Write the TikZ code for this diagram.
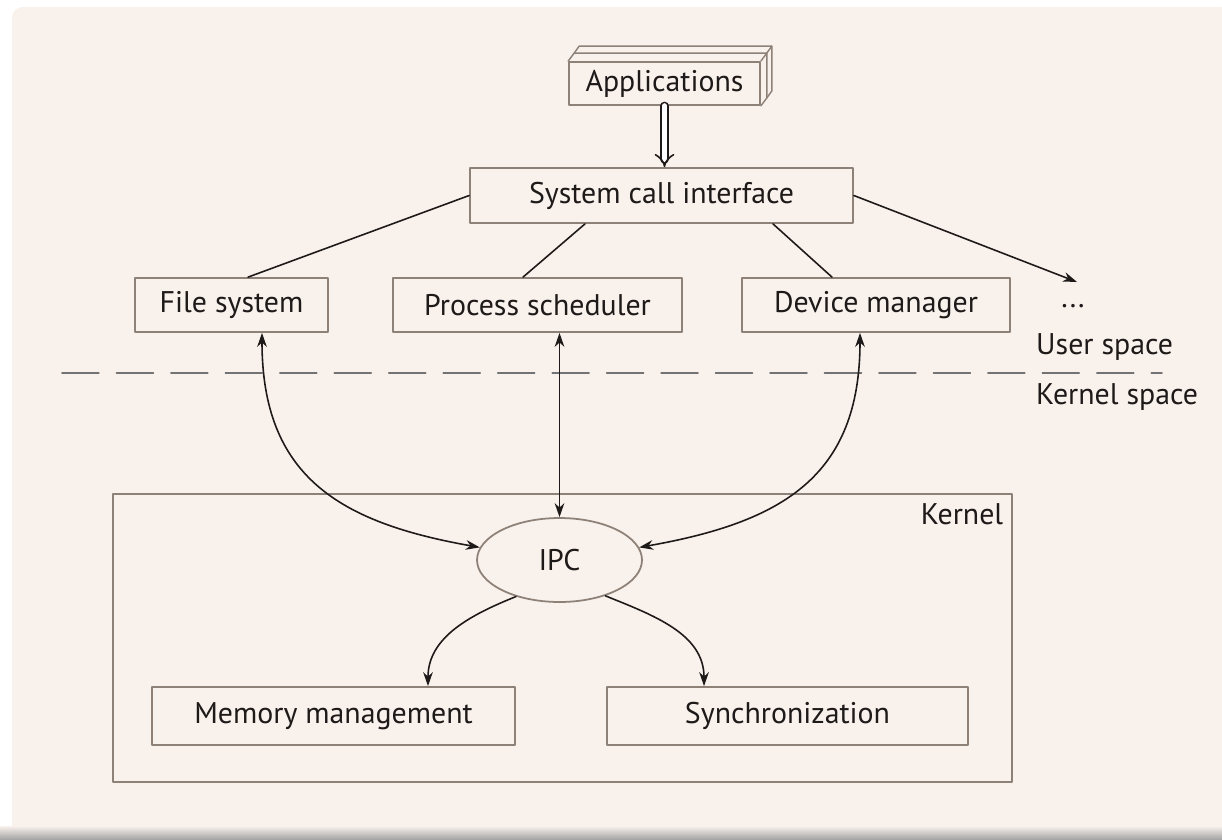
\documentclass[tikz,border=0pt]{standalone}
\usepackage{fontspec}
\setmainfont{PT Sans}
\usetikzlibrary{arrows.meta,shapes.geometric}
\definecolor{paper}{HTML}{F8F1EC}
\definecolor{frame}{HTML}{8E8178}
\definecolor{ink}{HTML}{1E1A19}
\begin{document}
\begin{tikzpicture}[x=0.02cm,y=0.02cm,>={Stealth[length=8pt,width=5.5pt]},line join=round,line cap=round,
  font=\fontsize{17}{20}\selectfont,
  box/.style={draw=frame,line width=1pt,minimum height=1.08cm,inner sep=0pt,text=ink},
  link/.style={draw=ink,line width=0.9pt}]
  \useasboundingbox (0,0) rectangle (1222,-839);
  % paper
  \fill[white] (0,0) rectangle (1222,-839);
  \fill[paper,rounded corners=6pt] (12,-7) rectangle (1230,-836);
  \shade[top color=paper,bottom color=gray!70] (0,-826) rectangle (1222,-839);
  % user part
  \node[box,minimum width=3.82cm,minimum height=0.86cm] (apps) at (664.5,-83.5) {Applications};
  \draw[frame,line width=0.8pt] (apps.north west) -- ++(6,8) -- ([shift={(6,8)}]apps.north east) -- ([shift={(6,8)}]apps.south east) -- (apps.south east);
  \draw[frame,line width=0.8pt] ([shift={(6,8)}]apps.north west) -- ++(5,7) -- ([shift={(11,15)}]apps.north east) -- ([shift={(11,15)}]apps.south east) -- ([shift={(6,8)}]apps.south east);
  \draw[frame,line width=0.8pt] (apps.north east) -- ++(11,15);
  \node[box,minimum width=7.66cm,minimum height=1.1cm] (sci) at (661.5,-195.5) {System call interface};
  \node[box,minimum width=3.86cm] (fs) at (231.5,-305) {File system};
  \node[box,minimum width=5.78cm] (ps) at (537.5,-305) {Process scheduler};
  \node[box,minimum width=5.36cm] (dm) at (876,-305) {Device manager};
  \node[text=ink] (dots) at (1073,-306) {...};
  \coordinate (more) at (1077,-282);
  \draw[ink,line width=0.9pt,double,double distance=3pt,-{Implies}] (apps.south) -- (apps.south |- sci.north);
  \draw[link] (sci.west) -- ([xshift=0.33cm]fs.north);
  \draw[link] ([xshift=-1.53cm]sci.south) -- ([xshift=-0.29cm]ps.north);
  \draw[link] ([xshift=2.23cm]sci.south) -- ([xshift=-0.88cm]dm.north);
  \draw[link,->] (sci.east) -- (more);
  % boundary
  \draw[draw=gray!90!black,line width=0.9pt,dash pattern=on 21pt off 10pt] (62,-373) -- (1162,-373);
  \node[anchor=west,text=ink] (user) at (1030,-347) {User space};
  \node[anchor=west,text=ink] (kspace) at (1030,-397) {Kernel space};
  % kernel part
  \node[draw=frame,line width=1.6pt,minimum width=17.98cm,minimum height=5.76cm] (kernel) at (562.5,-638) {};
  \node[anchor=north east,text=ink] at ([shift={(-0.08cm,-0.1cm)}]kernel.north east) {Kernel};
  \node[box,ellipse,minimum width=3.3cm,minimum height=1.68cm,fill=paper] (ipc) at (559.5,-560) {IPC};
  \node[box,minimum width=7.26cm,minimum height=1.16cm] (mm) at (333.5,-716) {Memory management};
  \node[box,minimum width=7.22cm,minimum height=1.16cm] (sync) at (787.5,-716) {Synchronization};
  \draw[link,<->] (ipc.north |- ps.south) -- (ipc.north);
  \draw[link,<->] ([xshift=0.61cm]fs.south) to[out=-90,in=170,looseness=1.2] (ipc.171);
  \draw[link,<->] ([xshift=-0.32cm]dm.south) to[out=-90,in=10,looseness=1.2] (ipc.9);
  \draw[link,->] (ipc.-140) to[out=-158,in=90] ([xshift=1.89cm]mm.north);
  \draw[link,->] (ipc.-38) to[out=-22,in=90] ([xshift=-1.67cm]sync.north);
\end{tikzpicture}
\end{document}
